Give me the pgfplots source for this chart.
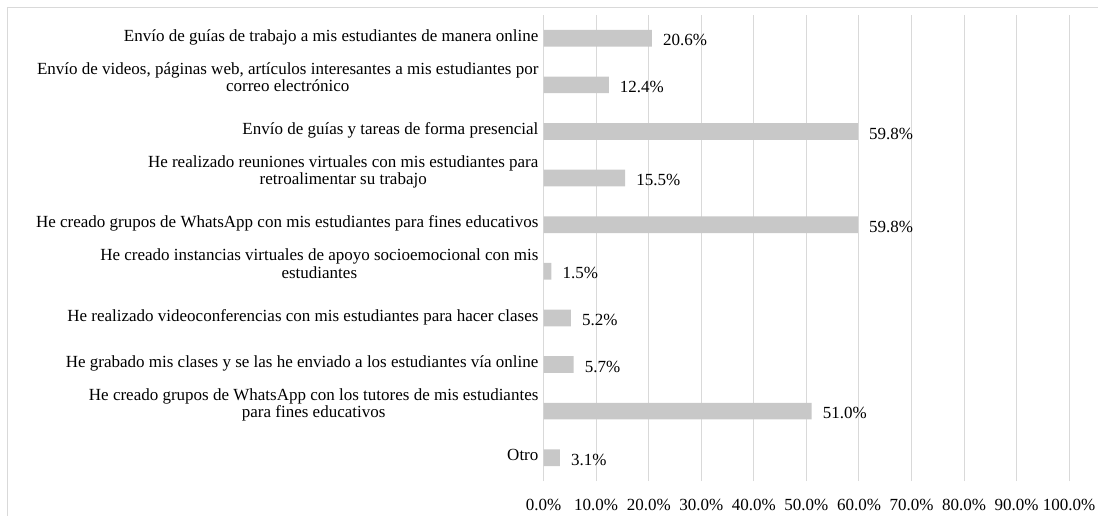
\documentclass[border=0pt]{standalone}
\usepackage{fontspec}
\setmainfont{Liberation Serif}
\usepackage{pgfplots}
\pgfplotsset{compat=1.18}
\definecolor{bargray}{RGB}{200,200,200}
\definecolor{gridgray}{RGB}{217,217,217}
\newcommand{\lbl}{\fontsize{17}{17.5}\selectfont}
% two-line category label, last line level with the bar
\newcommand{\two}[2]{\raisebox{-3.5pt}{\begin{tabular}[b]{@{}c@{}}#1\\#2\end{tabular}}}
\begin{document}
\begin{tikzpicture}
\begin{axis}[
  at={(543.6pt,34pt)}, anchor=south west,
  scale only axis, width=525.6pt, height=466pt,
  xbar, bar width=16.7pt,
  xmin=0, xmax=100, ymin=-0.5, ymax=9.5,
  xtick={0,10,...,100}, ytick={0,...,9},
  xmajorgrids, major grid style={gridgray, line width=1pt},
  axis line style={draw=none},
  major tick length=0pt,
  tick label style={font=\lbl},
  xticklabel={\pgfmathprintnumber[fixed,fixed zerofill,precision=1,assume math mode=true]{\tick}\%},
  xticklabel style={anchor=mid, yshift=-27.5pt},
  yticklabel style={anchor=mid east, inner sep=0pt, xshift=-5pt, yshift=-1pt},
  yticklabels={
    Otro,
    {\two{He creado grupos de WhatsApp con los tutores de mis estudiantes}{para fines educativos}},
    He grabado mis clases y se las he enviado a los estudiantes vía online,
    He realizado videoconferencias con mis estudiantes para hacer clases,
    {\two{He creado instancias virtuales de apoyo socioemocional con mis}{estudiantes}},
    He creado grupos de WhatsApp con mis estudiantes para fines educativos,
    {\two{He realizado reuniones virtuales con mis estudiantes para}{retroalimentar su trabajo}},
    Envío de guías y tareas de forma presencial,
    {\two{Envío de videos, páginas web, artículos interesantes a mis estudiantes por}{correo electrónico}},
    Envío de guías de trabajo a mis estudiantes de manera online
  },
  point meta=x,
  nodes near coords={\pgfmathprintnumber[fixed,fixed zerofill,precision=1,assume math mode=true]{\pgfplotspointmeta}\%},
  nodes near coords style={font=\lbl, anchor=west, inner sep=0pt, xshift=11pt, yshift=-2pt, black},
]
\addplot[draw=none, fill=bargray] table {
x y
20.6 9
12.4 8
59.8 7
15.5 6
59.8 5
1.5 4
5.2 3
5.7 2
51.0 1
3.1 0
};
\end{axis}
\pgfresetboundingbox
\useasboundingbox (0pt,0pt) rectangle (1098pt,515pt);
\draw[gridgray, line width=1pt] (7.7pt,-10pt) -- (7.7pt,507.3pt) -- (1110pt,507.3pt);
\end{tikzpicture}
\end{document}
